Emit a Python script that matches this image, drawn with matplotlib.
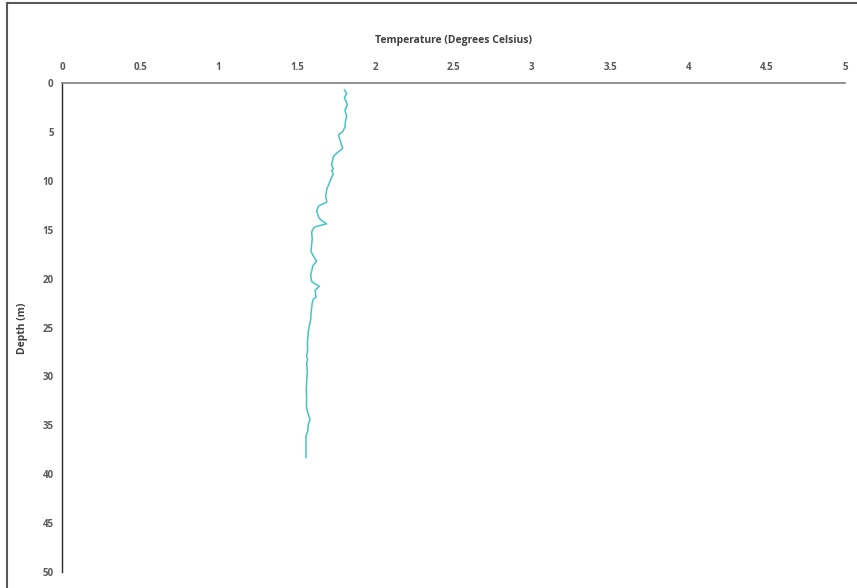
import matplotlib
matplotlib.use("Agg")
import matplotlib.pyplot as plt
from matplotlib.lines import Line2D

# Data
temperature = [1.803, 1.818, 1.810, 1.803, 1.815, 1.822, 1.807, 1.812, 1.818, 1.810,
               1.807, 1.800, 1.792, 1.765, 1.775, 1.786, 1.792, 1.754, 1.733, 1.728,
               1.722, 1.733, 1.722, 1.733, 1.720, 1.711, 1.700, 1.690, 1.684, 1.690,
               1.690, 1.660, 1.637, 1.626, 1.635, 1.641, 1.660, 1.690, 1.616, 1.600,
               1.594, 1.598, 1.595, 1.590, 1.605, 1.626, 1.601, 1.595, 1.588, 1.592,
               1.594, 1.643, 1.616, 1.622, 1.605, 1.598, 1.594, 1.590, 1.588, 1.580,
               1.573, 1.570, 1.567, 1.569, 1.562, 1.569, 1.562, 1.567, 1.563, 1.560,
               1.562, 1.561, 1.562, 1.573, 1.584, 1.573, 1.569, 1.558, 1.558, 1.558]
depth = [0.71, 1.05, 1.30, 1.56, 1.90, 2.24, 2.76, 3.10, 3.44, 3.90,
         4.46, 4.75, 4.97, 5.31, 5.80, 6.33, 6.67, 7.18, 7.52, 7.90,
         8.37, 8.80, 8.95, 9.29, 9.70, 10.07, 10.50, 10.90, 11.60, 12.00,
         12.20, 12.40, 12.60, 13.10, 13.50, 13.80, 14.10, 14.40, 14.70, 15.00,
         15.30, 15.90, 16.40, 17.20, 17.70, 18.20, 18.70, 19.20, 19.60, 20.00,
         20.30, 20.80, 21.20, 21.90, 22.10, 22.50, 23.00, 23.60, 24.20, 24.80,
         25.40, 26.00, 26.60, 27.30, 27.90, 28.30, 28.60, 29.60, 30.40, 31.30,
         32.20, 32.80, 33.20, 33.90, 34.40, 34.90, 35.60, 36.10, 37.20, 38.30]

x_ticks = [0, 0.5, 1, 1.5, 2, 2.5, 3, 3.5, 4, 4.5, 5]
x_tick_labels = ["0", "0.5", "1", "1.5", "2", "2.5", "3", "3.5", "4", "4.5", "5"]
y_ticks = [0, 5, 10, 15, 20, 25, 30, 35, 40, 45, 50]

plt.rcParams['font.family'] = ['Open Sans', 'DejaVu Sans']

W, H = 857, 588
fig = plt.figure(figsize=(W / 100, H / 100), dpi=100)
ax = fig.add_axes([62 / W, 1 - 572 / H, (845 - 62) / W, (572 - 83) / H])

ax.plot(temperature, depth, color='#46C4BF', linewidth=1.1)

ax.set_xlim(0, 5)
ax.set_ylim(50, 0)
ax.xaxis.tick_top()
ax.set_xticks(x_ticks)
ax.set_xticklabels(x_tick_labels)
ax.set_yticks(y_ticks)
ax.tick_params(axis='both', length=0, labelsize=7, labelcolor='#595959')
ax.tick_params(axis='x', pad=7.5)
ax.tick_params(axis='y', pad=6)
for lbl in ax.get_xticklabels() + ax.get_yticklabels():
    lbl.set_fontweight('bold')

for s in ['right', 'bottom']:
    ax.spines[s].set_visible(False)
ax.spines['top'].set_color('#7f7f7f')
ax.spines['top'].set_linewidth(1.2)
ax.spines['left'].set_color('#262626')
ax.spines['left'].set_linewidth(1.0)

fig.text(453.5 / W, 1 - 40 / H, 'Temperature (Degrees Celsius)', ha='center', va='center',
         fontsize=7.5, fontweight='bold', color='#404040')
fig.text(22 / W, 1 - 328 / H, 'Depth (m)', ha='center', va='center', rotation=90,
         fontsize=7.5, fontweight='bold', color='#404040')

# outer frame (top and left edges)
fig.add_artist(Line2D([7 / W, 7 / W], [0, 1 - 3 / H], transform=fig.transFigure,
                      color='#595959', linewidth=1.5))
fig.add_artist(Line2D([7 / W, 1], [1 - 3 / H, 1 - 3 / H], transform=fig.transFigure,
                      color='#595959', linewidth=1.5))

fig.savefig('out.png', dpi=100)
